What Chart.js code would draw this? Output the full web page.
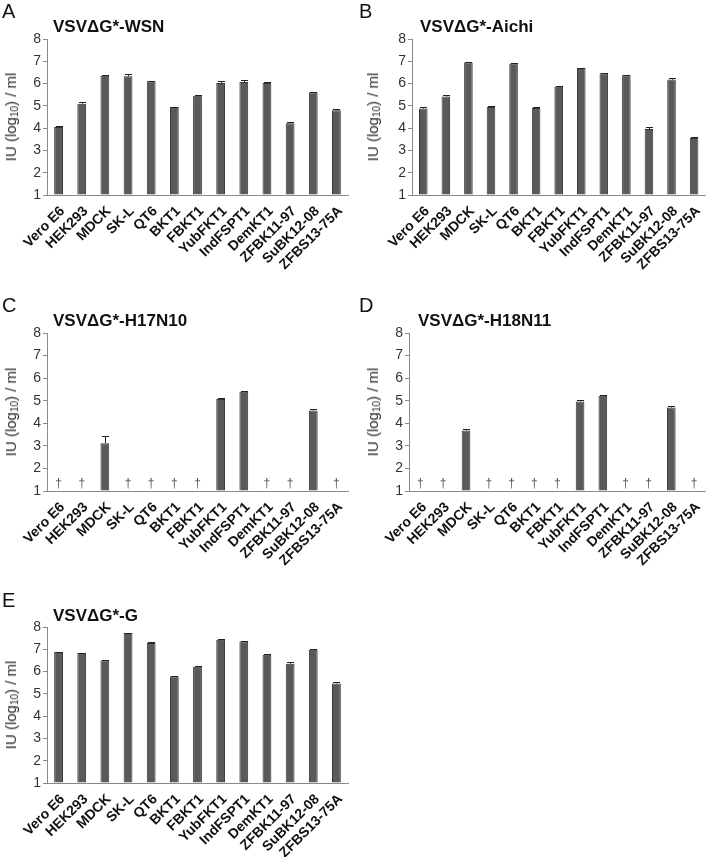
<!DOCTYPE html>
<html>
<head>
<meta charset="utf-8">
<script src="https://cdn.jsdelivr.net/npm/chart.js@4/dist/chart.umd.min.js"></script>
<style>
  html, body { margin: 0; padding: 0; background: #fff; }
  body { width: 714px; height: 857px; position: relative; overflow: hidden; font-family: "Liberation Sans", Arial, sans-serif; color: #111; }
  .panel { position: absolute; }
  .panel canvas { position: absolute; left: 0; top: 0; }
  .letter { position: absolute; font-size: 20px; line-height: 20px; color: #111; }
  .ptitle { position: absolute; font-size: 17px; line-height: 17px; font-weight: bold; color: #111; white-space: nowrap; }
  .ytitle { position: absolute; font-size: 15px; color: #2a2a2a; white-space: nowrap; transform: translate(-50%, -50%) rotate(-90deg); }
  .ytitle sub { font-size: 10px; vertical-align: -2px; }
</style>
</head>
<body>
<script>
// ---------- data ----------
const categories = ['Vero E6','HEK293','MDCK','SK-L','QT6','BKT1','FBKT1','YubFKT1','IndFSPT1','DemKT1','ZFBK11-97','SuBK12-08','ZFBS13-75A'];
const yTicks = [1, 2, 3, 4, 5, 6, 7, 8];

const wsnValues   = [4.05, 5.10, 6.35, 6.33, 6.10, 4.95, 5.45, 6.03, 6.07, 6.03, 4.22, 5.60, 4.80];
const wsnErrors   = [0.04, 0.07, 0.03, 0.08, 0.03, 0.02, 0.02, 0.07, 0.08, 0.03, 0.05, 0.03, 0.04];

const aichiValues = [4.88, 5.42, 6.95, 4.95, 6.90, 4.90, 5.86, 6.70, 6.46, 6.37, 3.96, 6.18, 3.56];
const aichiErrors = [0.08, 0.05, 0.02, 0.03, 0.03, 0.03, 0.02, 0.02, 0.03, 0.03, 0.07, 0.07, 0.03];

const h17n10Values = [null, null, 3.12, null, null, null, null, 5.08, 5.40, null, null, 4.57, null];
const h17n10Errors = [0, 0, 0.30, 0, 0, 0, 0, 0.06, 0.02, 0, 0, 0.05, 0];

const h18n11Values = [null, null, 3.68, null, null, null, null, 4.97, 5.22, null, null, 4.70, null];
const h18n11Errors = [0, 0, 0.05, 0, 0, 0, 0, 0.05, 0.03, 0, 0, 0.08, 0];

const gValues = [6.88, 6.83, 6.50, 7.73, 7.28, 5.78, 6.22, 7.43, 7.35, 6.75, 6.35, 6.98, 5.47];
const gErrors = [0.02, 0.02, 0.02, 0.02, 0.03, 0.02, 0.02, 0.03, 0.02, 0.05, 0.10, 0.02, 0.04];

const panelLetters = ['A', 'B', 'C', 'D', 'E'];
const panelTitles = ['VSV\u0394G*-WSN', 'VSV\u0394G*-Aichi', 'VSV\u0394G*-H17N10', 'VSV\u0394G*-H18N11', 'VSV\u0394G*-G'];
const panelValues = [wsnValues, aichiValues, h17n10Values, h18n11Values, gValues];
const panelErrors = [wsnErrors, aichiErrors, h17n10Errors, h18n11Errors, gErrors];
const missingMark = '\u2020';

// ---------- layout ----------
const layouts = [
  { x: 0,   y: 0,   w: 357, h: 288, left: 47, top: 39, right: 348, bottom: 195, tx: 53,  ty: 18, yt: 11 },
  { x: 357, y: 0,   w: 357, h: 288, left: 55, top: 39, right: 356, bottom: 195, tx: 63,  ty: 18, yt: 16 },
  { x: 0,   y: 290, w: 357, h: 288, left: 47, top: 43, right: 348, bottom: 201, tx: 53,  ty: 22, yt: 11 },
  { x: 357, y: 290, w: 357, h: 288, left: 52, top: 43, right: 356, bottom: 201, tx: 61,  ty: 22, yt: 16 },
  { x: 0,   y: 570, w: 357, h: 287, left: 47, top: 57, right: 348, bottom: 213, tx: 53,  ty: 37, yt: 11 }
];
const letterPos = [[2, 1], [2, 1], [2, 5], [2, 5], [2, 20]];

const errorBarPlugin = {
  id: 'errorBars',
  afterDatasetsDraw(chart, args, opts) {
    const ctx = chart.ctx;
    const meta = chart.getDatasetMeta(0);
    const yScale = chart.scales.y;
    const xScale = chart.scales.x;
    const vals = chart.data.datasets[0].data;
    const errs = opts.errors;
    ctx.save();
    meta.data.forEach((bar, i) => {
      const v = vals[i];
      if (v === null || v === undefined) {
        const px = xScale.getPixelForValue(i);
        const py = yScale.getPixelForValue(1);
        ctx.fillStyle = '#555';
        ctx.font = '12px "Liberation Sans", Arial, sans-serif';
        ctx.textAlign = 'center';
        ctx.textBaseline = 'bottom';
        ctx.fillText(missingMark, px, py - 1);
        return;
      }
      const e = errs[i];
      if (!e) return;
      const top = yScale.getPixelForValue(v + e);
      const base = bar.y;
      ctx.strokeStyle = '#222';
      ctx.lineWidth = 1;
      ctx.beginPath();
      ctx.moveTo(Math.round(bar.x) + 0.5, base);
      ctx.lineTo(Math.round(bar.x) + 0.5, Math.round(top) + 0.5);
      ctx.moveTo(Math.round(bar.x) - 3, Math.round(top) + 0.5);
      ctx.lineTo(Math.round(bar.x) + 4, Math.round(top) + 0.5);
      ctx.stroke();
    });
    ctx.restore();
  }
};

layouts.forEach((L, p) => {
  const panel = document.createElement('div');
  panel.className = 'panel';
  panel.style.left = L.x + 'px';
  panel.style.top = L.y + 'px';
  panel.style.width = L.w + 'px';
  panel.style.height = L.h + 'px';
  document.body.appendChild(panel);

  const cv = document.createElement('canvas');
  cv.width = L.w; cv.height = L.h;
  cv.style.width = L.w + 'px'; cv.style.height = L.h + 'px';
  panel.appendChild(cv);

  const letter = document.createElement('div');
  letter.className = 'letter';
  letter.textContent = panelLetters[p];
  letter.style.left = letterPos[p][0] + 'px';
  letter.style.top = letterPos[p][1] + 'px';
  panel.appendChild(letter);

  const title = document.createElement('div');
  title.className = 'ptitle';
  title.textContent = panelTitles[p];
  title.style.left = L.tx + 'px';
  title.style.top = L.ty + 'px';
  panel.appendChild(title);

  const yt = document.createElement('div');
  yt.className = 'ytitle';
  yt.innerHTML = 'IU (log<sub>10</sub>) / ml';
  yt.style.left = L.yt + 'px';
  yt.style.top = ((L.top + L.bottom) / 2) + 'px';
  panel.appendChild(yt);

  new Chart(cv, {
    type: 'bar',
    data: {
      labels: categories,
      datasets: [{
        data: panelValues[p],
        base: 1,
        backgroundColor: '#5a5a5a',
        borderColor: '#333333',
        borderWidth: 1,
        barPercentage: 0.38,
        categoryPercentage: 1.0
      }]
    },
    options: {
      responsive: false,
      animation: false,
      devicePixelRatio: 1,
      layout: { padding: { left: 0, top: L.top, right: L.w - L.right, bottom: 0 } },
      plugins: {
        legend: { display: false },
        tooltip: { enabled: false },
        errorBars: { errors: panelErrors[p] }
      },
      scales: {
        x: {
          afterFit(scale) { scale.height = L.h - L.bottom; },
          grid: { display: true, drawOnChartArea: false, drawTicks: false },
          border: { display: true, color: '#8a8a8a', width: 1 },
          ticks: {
            autoSkip: false,
            maxRotation: 45,
            minRotation: 45,
            padding: 8,
            labelOffset: 4,
            color: '#111',
            font: { family: '"Liberation Sans", Arial, sans-serif', size: 14, weight: 'bold' }
          }
        },
        y: {
          min: 1,
          max: 8,
          afterFit(scale) { scale.width = L.left; },
          afterBuildTicks(scale) { scale.ticks = yTicks.map(v => ({ value: v })); },
          grid: { display: true, drawOnChartArea: false, drawTicks: true, tickLength: 4, color: '#8a8a8a' },
          border: { display: true, color: '#8a8a8a', width: 1 },
          ticks: {
            padding: 2,
            color: '#333',
            font: { family: '"Liberation Sans", Arial, sans-serif', size: 14 }
          }
        }
      }
    },
    plugins: [errorBarPlugin]
  });
});
</script>
</body>
</html>
